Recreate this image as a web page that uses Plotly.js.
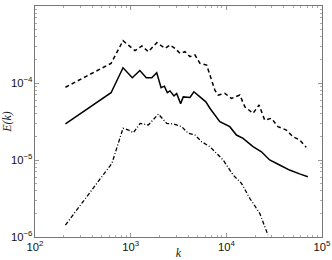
<!DOCTYPE html>
<html>
<head>
<meta charset="utf-8">
<script src="https://cdn.plot.ly/plotly-3.0.1.min.js"></script>
<style>html,body{margin:0;padding:0;background:#fff;}#chart{width:332px;height:260px;}</style>
</head>
<body>
<div id="chart"></div>
<script>
// Solid series
const kSolid = [208, 624, 832, 1040, 1248, 1456, 1664, 1872, 2080, 2250, 2415, 2576, 2838, 3027, 3327, 3548, 4169, 4581, 5297, 6109, 6730, 8551, 10860, 12760, 14960, 19010, 23280, 27230, 28380, 36060, 45810, 58340, 71120];
const eSolid = [2.94e-5, 7.48e-5, 1.58e-4, 1.17e-4, 1.45e-4, 1.17e-4, 1.17e-4, 1.36e-4, 8.7e-5, 9.1e-5, 7.5e-5, 7.9e-5, 6.8e-5, 7.3e-5, 5.4e-5, 6.6e-5, 6.5e-5, 7.7e-5, 6.6e-5, 5.7e-5, 4.7e-5, 3.15e-5, 2.71e-5, 2.11e-5, 1.91e-5, 1.49e-5, 1.28e-5, 1.05e-5, 1.0e-5, 8.6e-6, 7.4e-6, 6.6e-6, 6.07e-6];
// Dashed series
const kDash = [208, 624, 832, 1110, 1310, 1531, 1875, 2286, 2576, 2911, 3281, 3698, 4169, 4699, 5297, 6223, 7015, 7586, 8222, 9638, 11320, 13840, 15600, 19010, 21980, 25180, 29580, 34670, 42360, 49660, 58340, 68390];
const eDash = [8.8e-5, 1.80e-4, 3.54e-4, 2.63e-4, 3.03e-4, 2.55e-4, 3.34e-4, 2.82e-4, 3.12e-4, 2.82e-4, 2.43e-4, 2.55e-4, 2.2e-4, 2.31e-4, 1.80e-4, 1.71e-4, 1.09e-4, 8.1e-5, 6.98e-5, 7.35e-5, 6.3e-5, 6.98e-5, 4.92e-5, 4.04e-5, 5.18e-5, 3.3e-5, 3.48e-5, 2.71e-5, 2.45e-5, 2.01e-5, 1.82e-5, 1.46e-5];
// Dash-dot series
const kDot = [208, 637, 832, 948, 1070, 1256, 1531, 1950, 2382, 2793, 3412, 4000, 4699, 5521, 6730, 8222, 9268, 11780, 14390, 17580, 22340, 27230];
const eDot = [1.43e-6, 9.06e-6, 2.58e-5, 2.45e-5, 2.26e-5, 2.99e-5, 2.85e-5, 3.95e-5, 2.99e-5, 2.94e-5, 2.71e-5, 2.22e-5, 2.11e-5, 1.73e-5, 1.49e-5, 1.16e-5, 1.0e-5, 6.38e-6, 4.98e-6, 3.18e-6, 2.03e-6, 1.06e-6];

const xTitle = 'k';
const yTitle = 'E(k)';

const traces = [
  {x: kDash, y: eDash, mode: 'lines', line: {color: '#000', width: 1.5, dash: '4px,3px'}, hoverinfo: 'skip'},
  {x: kSolid, y: eSolid, mode: 'lines', line: {color: '#000', width: 1.5}, hoverinfo: 'skip'},
  {x: kDot, y: eDot, mode: 'lines', line: {color: '#000', width: 1.3, dash: '4px,2px,1px,2px'}, hoverinfo: 'skip'}
];

const axisCommon = {
  type: 'log', dtick: 1, exponentformat: 'power', showexponent: 'all',
  ticks: 'inside', ticklen: 4, tickwidth: 0.6, tickcolor: '#555',
  showline: true, linecolor: '#555', linewidth: 0.8, mirror: 'allticks',
  showgrid: false, zeroline: false,
  tickfont: {family: 'Liberation Sans, Arial, sans-serif', size: 9, color: '#111'},
  minor: {ticks: 'inside', ticklen: 2, tickwidth: 0.5, tickcolor: '#555', showgrid: false}
};

const layout = {
  width: 332, height: 260,
  margin: {l: 34.5, r: 9.5, t: 6, b: 23},
  paper_bgcolor: '#fff', plot_bgcolor: '#fff',
  showlegend: false,
  xaxis: Object.assign({}, axisCommon, {
    range: [2, 5],
    title: {text: '<i>' + xTitle + '</i>', font: {family: 'Liberation Serif, Times New Roman, serif', size: 12, color: '#222'}, standoff: 2}
  }),
  yaxis: Object.assign({}, axisCommon, {
    range: [-6, -3],
    title: {text: '<i>' + yTitle + '</i>', font: {family: 'Liberation Serif, Times New Roman, serif', size: 12, color: '#222'}, standoff: 7}
  })
};

Plotly.newPlot('chart', traces, layout, {staticPlot: true, displayModeBar: false});
</script>
</body>
</html>
